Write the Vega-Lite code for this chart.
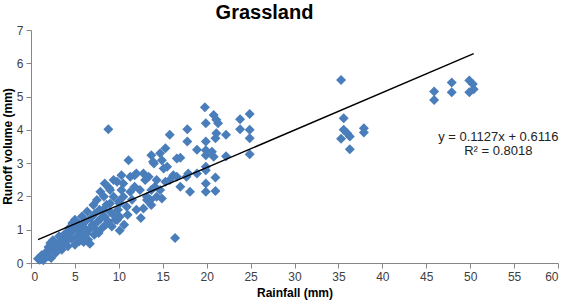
{
  "$schema": "https://vega.github.io/schema/vega-lite/v6.json",
  "width": 527,
  "height": 233,
  "autosize": "none",
  "padding": {"left": 31, "top": 30, "right": 7, "bottom": 39},
  "background": "white",
  "title": {"text": "Grassland", "font": "Liberation Sans", "fontSize": 20, "fontWeight": "bold", "color": "black", "anchor": "middle", "frame": "group", "offset": 1, "dx": -30},
  "config": {"view": {"stroke": null}},
  "datasets": {
    "pts": [
      {"rainfall": 0.8, "runoff": 0.13}, {"rainfall": 1.0, "runoff": 0.1}, {"rainfall": 1.2, "runoff": 0.23}, {"rainfall": 1.4, "runoff": 0.08},
      {"rainfall": 1.6, "runoff": 0.3}, {"rainfall": 1.8, "runoff": 0.33}, {"rainfall": 2.0, "runoff": 0.48}, {"rainfall": 2.0, "runoff": 0.2},
      {"rainfall": 2.2, "runoff": 0.6}, {"rainfall": 2.3, "runoff": 0.15}, {"rainfall": 2.4, "runoff": 0.43}, {"rainfall": 2.5, "runoff": 0.68},
      {"rainfall": 2.7, "runoff": 0.58}, {"rainfall": 2.8, "runoff": 0.3}, {"rainfall": 3.0, "runoff": 0.5}, {"rainfall": 3.1, "runoff": 0.53},
      {"rainfall": 3.2, "runoff": 0.8}, {"rainfall": 3.3, "runoff": 0.63}, {"rainfall": 3.5, "runoff": 0.73}, {"rainfall": 3.5, "runoff": 0.4},
      {"rainfall": 3.7, "runoff": 0.83}, {"rainfall": 3.8, "runoff": 0.6}, {"rainfall": 4.0, "runoff": 0.9}, {"rainfall": 4.1, "runoff": 0.68},
      {"rainfall": 4.2, "runoff": 0.5}, {"rainfall": 4.3, "runoff": 1.04}, {"rainfall": 4.4, "runoff": 0.88}, {"rainfall": 4.6, "runoff": 0.73},
      {"rainfall": 4.7, "runoff": 1.2}, {"rainfall": 4.8, "runoff": 0.98}, {"rainfall": 5.0, "runoff": 0.55}, {"rainfall": 5.0, "runoff": 1.3},
      {"rainfall": 5.2, "runoff": 0.78}, {"rainfall": 5.3, "runoff": 1.1}, {"rainfall": 5.4, "runoff": 1.19}, {"rainfall": 5.5, "runoff": 0.65},
      {"rainfall": 5.6, "runoff": 0.93}, {"rainfall": 5.8, "runoff": 0.73}, {"rainfall": 5.8, "runoff": 1.4}, {"rainfall": 6.0, "runoff": 1.08},
      {"rainfall": 6.0, "runoff": 0.63}, {"rainfall": 6.2, "runoff": 1.25}, {"rainfall": 6.3, "runoff": 0.88}, {"rainfall": 6.4, "runoff": 1.55},
      {"rainfall": 6.5, "runoff": 0.7}, {"rainfall": 6.6, "runoff": 1.0}, {"rainfall": 6.7, "runoff": 0.58}, {"rainfall": 6.8, "runoff": 1.35},
      {"rainfall": 7.0, "runoff": 1.15}, {"rainfall": 7.1, "runoff": 1.74}, {"rainfall": 7.2, "runoff": 0.85}, {"rainfall": 7.3, "runoff": 1.49},
      {"rainfall": 7.4, "runoff": 1.0}, {"rainfall": 7.5, "runoff": 1.89}, {"rainfall": 7.6, "runoff": 1.25}, {"rainfall": 7.7, "runoff": 0.9},
      {"rainfall": 7.8, "runoff": 1.6}, {"rainfall": 7.9, "runoff": 2.14}, {"rainfall": 8.0, "runoff": 1.35}, {"rainfall": 8.1, "runoff": 1.05},
      {"rainfall": 8.2, "runoff": 1.59}, {"rainfall": 8.3, "runoff": 2.0}, {"rainfall": 8.4, "runoff": 1.39}, {"rainfall": 8.4, "runoff": 2.39},
      {"rainfall": 8.5, "runoff": 1.15}, {"rainfall": 8.6, "runoff": 1.75}, {"rainfall": 8.8, "runoff": 1.25}, {"rainfall": 8.8, "runoff": 4.02},
      {"rainfall": 8.9, "runoff": 2.25}, {"rainfall": 9.0, "runoff": 1.54}, {"rainfall": 9.0, "runoff": 1.79}, {"rainfall": 9.0, "runoff": 2.19},
      {"rainfall": 9.2, "runoff": 1.1}, {"rainfall": 9.4, "runoff": 1.44}, {"rainfall": 9.4, "runoff": 1.99}, {"rainfall": 9.4, "runoff": 2.49},
      {"rainfall": 9.6, "runoff": 1.3}, {"rainfall": 9.8, "runoff": 2.44}, {"rainfall": 9.8, "runoff": 1.29}, {"rainfall": 9.9, "runoff": 1.6},
      {"rainfall": 10.0, "runoff": 1.85}, {"rainfall": 10.1, "runoff": 0.98}, {"rainfall": 10.1, "runoff": 1.39}, {"rainfall": 10.1, "runoff": 1.79},
      {"rainfall": 10.3, "runoff": 2.19}, {"rainfall": 10.3, "runoff": 2.64}, {"rainfall": 10.5, "runoff": 1.99}, {"rainfall": 10.5, "runoff": 2.39},
      {"rainfall": 10.6, "runoff": 1.15}, {"rainfall": 10.9, "runoff": 1.69}, {"rainfall": 11.0, "runoff": 1.45}, {"rainfall": 11.1, "runoff": 3.09},
      {"rainfall": 11.3, "runoff": 2.14}, {"rainfall": 11.3, "runoff": 2.59}, {"rainfall": 11.5, "runoff": 1.9}, {"rainfall": 11.8, "runoff": 2.29},
      {"rainfall": 11.8, "runoff": 2.64}, {"rainfall": 12.0, "runoff": 2.69}, {"rainfall": 12.0, "runoff": 1.6}, {"rainfall": 12.4, "runoff": 2.19},
      {"rainfall": 12.5, "runoff": 1.35}, {"rainfall": 12.8, "runoff": 1.64}, {"rainfall": 12.8, "runoff": 2.69}, {"rainfall": 13.0, "runoff": 2.49},
      {"rainfall": 13.2, "runoff": 1.89}, {"rainfall": 13.2, "runoff": 1.99}, {"rainfall": 13.4, "runoff": 2.59}, {"rainfall": 13.6, "runoff": 1.89},
      {"rainfall": 13.7, "runoff": 1.74}, {"rainfall": 13.7, "runoff": 2.19}, {"rainfall": 13.7, "runoff": 3.24}, {"rainfall": 13.9, "runoff": 3.04},
      {"rainfall": 14.0, "runoff": 2.99}, {"rainfall": 14.1, "runoff": 2.29}, {"rainfall": 14.3, "runoff": 1.99}, {"rainfall": 14.3, "runoff": 2.49},
      {"rainfall": 14.7, "runoff": 2.19}, {"rainfall": 14.7, "runoff": 3.3}, {"rainfall": 14.9, "runoff": 1.94}, {"rainfall": 14.9, "runoff": 3.09},
      {"rainfall": 15.1, "runoff": 2.84}, {"rainfall": 15.3, "runoff": 2.44}, {"rainfall": 15.3, "runoff": 3.45}, {"rainfall": 15.5, "runoff": 2.89},
      {"rainfall": 15.8, "runoff": 2.49}, {"rainfall": 15.8, "runoff": 3.85}, {"rainfall": 16.2, "runoff": 2.64}, {"rainfall": 16.4, "runoff": 0.75},
      {"rainfall": 16.6, "runoff": 2.59}, {"rainfall": 16.6, "runoff": 3.14}, {"rainfall": 17.0, "runoff": 2.29}, {"rainfall": 17.0, "runoff": 3.16},
      {"rainfall": 17.7, "runoff": 2.59}, {"rainfall": 17.8, "runoff": 3.65}, {"rainfall": 17.8, "runoff": 4.02}, {"rainfall": 17.9, "runoff": 2.69},
      {"rainfall": 18.1, "runoff": 2.14}, {"rainfall": 18.9, "runoff": 2.69}, {"rainfall": 18.9, "runoff": 3.4}, {"rainfall": 19.8, "runoff": 4.68},
      {"rainfall": 19.9, "runoff": 2.14}, {"rainfall": 19.9, "runoff": 2.39}, {"rainfall": 19.9, "runoff": 2.79}, {"rainfall": 19.9, "runoff": 2.89},
      {"rainfall": 19.9, "runoff": 3.24}, {"rainfall": 19.9, "runoff": 3.39}, {"rainfall": 19.9, "runoff": 3.65}, {"rainfall": 19.9, "runoff": 4.2},
      {"rainfall": 20.6, "runoff": 3.34}, {"rainfall": 20.8, "runoff": 3.19}, {"rainfall": 20.8, "runoff": 4.45}, {"rainfall": 21.0, "runoff": 2.16},
      {"rainfall": 21.0, "runoff": 2.57}, {"rainfall": 21.0, "runoff": 3.75}, {"rainfall": 21.1, "runoff": 3.9}, {"rainfall": 21.1, "runoff": 4.3},
      {"rainfall": 21.3, "runoff": 4.2}, {"rainfall": 22.2, "runoff": 3.21}, {"rainfall": 22.2, "runoff": 3.85}, {"rainfall": 23.8, "runoff": 4.02},
      {"rainfall": 23.8, "runoff": 4.32}, {"rainfall": 24.9, "runoff": 3.27}, {"rainfall": 24.9, "runoff": 3.75}, {"rainfall": 24.9, "runoff": 4.0},
      {"rainfall": 24.9, "runoff": 4.48},
      {"rainfall": 35.3, "runoff": 5.5}, {"rainfall": 35.6, "runoff": 4.35}, {"rainfall": 35.6, "runoff": 4.0}, {"rainfall": 36.0, "runoff": 3.9},
      {"rainfall": 35.3, "runoff": 3.73}, {"rainfall": 36.3, "runoff": 3.8}, {"rainfall": 36.3, "runoff": 3.42}, {"rainfall": 37.9, "runoff": 4.05},
      {"rainfall": 37.9, "runoff": 3.92}, {"rainfall": 45.9, "runoff": 5.15}, {"rainfall": 45.9, "runoff": 4.9}, {"rainfall": 47.9, "runoff": 5.42},
      {"rainfall": 47.9, "runoff": 5.13}, {"rainfall": 49.9, "runoff": 5.48}, {"rainfall": 50.3, "runoff": 5.38}, {"rainfall": 49.9, "runoff": 5.13},
      {"rainfall": 50.4, "runoff": 5.22}
    ],
    "trend": [
      {"rainfall": 0.8, "runoff": 0.7018},
      {"rainfall": 50.4, "runoff": 6.2917}
    ],
    "eq": [
      {"rainfall": 53.2, "runoff": 3.8, "label": "y = 0.1127x + 0.6116"},
      {"rainfall": 53.2, "runoff": 3.36, "label": "R² = 0.8018"}
    ]
  },
  "encoding": {
    "x": {"field": "rainfall", "type": "quantitative", "scale": {"domain": [0, 60], "nice": false, "zero": false},
      "axis": {"title": "Rainfall (mm)", "values": [0,5,10,15,20,25,30,35,40,45,50,55,60], "grid": false, "domainColor": "#868686", "tickColor": "#868686", "tickSize": 5, "labelFont": "Liberation Sans", "labelFontSize": 12, "labelColor": "#404040", "labelPadding": 3, "labelOverlap": false, "titleFont": "Liberation Sans", "titleFontSize": 12, "titleFontWeight": "bold", "titleColor": "black", "titlePadding": 5}},
    "y": {"field": "runoff", "type": "quantitative", "scale": {"domain": [0, 7], "nice": false},
      "axis": {"title": "Runoff volume (mm)", "values": [0,1,2,3,4,5,6,7], "grid": false, "domainColor": "#868686", "tickColor": "#868686", "tickSize": 5, "labelFont": "Liberation Sans", "labelFontSize": 12, "labelColor": "#404040", "labelPadding": 3, "labelOverlap": false, "titleFont": "Liberation Sans", "titleFontSize": 12, "titleFontWeight": "bold", "titleColor": "black", "titleX": -24, "titleY": 116, "titleAlign": "center", "titleBaseline": "middle", "titleAngle": -90}}
  },
  "layer": [
    {
      "data": {"name": "pts"},
      "mark": {"type": "point", "shape": "diamond", "filled": true, "size": 100, "color": "#4a7ebb", "opacity": 1, "strokeWidth": 0}
    },
    {
      "data": {"name": "trend"},
      "mark": {"type": "line", "color": "black", "strokeWidth": 1.5}
    },
    {
      "data": {"name": "eq"},
      "mark": {"type": "text", "font": "Liberation Sans", "fontSize": 13, "color": "#222222", "align": "center", "baseline": "middle"},
      "encoding": {
        "text": {"field": "label"}
      }
    }
  ]
}
